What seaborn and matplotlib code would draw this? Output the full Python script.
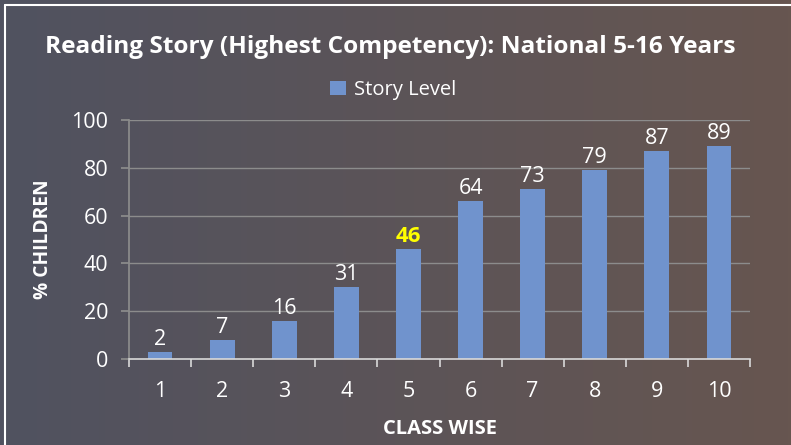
import numpy as np
import pandas as pd
import matplotlib
matplotlib.use("Agg")
import matplotlib.pyplot as plt
import seaborn as sns
from matplotlib.patches import Patch

classes = ["1", "2", "3", "4", "5", "6", "7", "8", "9", "10"]
bar_heights = [3, 8, 16, 30, 46, 66, 71, 79, 87, 89]
value_labels = ["2", "7", "16", "31", "46", "64", "73", "79", "87", "89"]
highlight = "5"
series_name = "Story Level"
title = "Reading Story (Highest Competency): National 5-16 Years"
y_ticks = [0, 20, 40, 60, 80, 100]

sns.set_theme(style="white")
plt.rcParams['font.family'] = ['Open Sans', 'DejaVu Sans']

W, H = 791, 445
fig = plt.figure(figsize=(W / 100, H / 100), dpi=100)

# gradient background
bg = fig.add_axes([0, 0, 1, 1], zorder=-10)
left_c = np.array([80, 82, 96]) / 255
right_c = np.array([103, 86, 80]) / 255
t = np.linspace(0, 1, 256)
grad = left_c[None, :] * (1 - t[:, None]) + right_c[None, :] * t[:, None]
bg.imshow(grad[None, :, :], aspect="auto", extent=[0, 1, 0, 1])
bg.set_xlim(0, 1); bg.set_ylim(0, 1)
bg.axis("off")
bg.plot([5 / W, 1], [1 - 5 / H, 1 - 5 / H], color="white", lw=1.5)
bg.plot([5 / W, 5 / W], [0, 1 - 5 / H], color="white", lw=1.5)

ax_l, ax_r, ax_t, ax_b = 129, 750, 120, 359
ax = fig.add_axes([ax_l / W, 1 - ax_b / H, (ax_r - ax_l) / W, (ax_b - ax_t) / H])
ax.patch.set_alpha(0)

df = pd.DataFrame({"cls": classes, "val": bar_heights, "series": series_name})
sns.barplot(data=df, x="cls", y="val", hue="series", palette=["#7093cd"],
            width=0.4, ax=ax, saturation=1, legend=False, linewidth=0, edgecolor="none")

ax.set_ylim(0, 100)
ax.set_xlim(-0.5, len(classes) - 0.5)
ax.set_yticks(y_ticks)
for y in y_ticks[1:]:
    ax.axhline(y, color="#8c8c8c", lw=1, zorder=0)

for i, (h, lab) in enumerate(zip(bar_heights, value_labels)):
    hl = classes[i] == highlight
    ax.text(i, h + 0.8, lab, ha="center", va="bottom",
            color="#ffff00" if hl else "white",
            fontsize=16 if hl else 15.5, fontweight="bold" if hl else "normal")

for s in ["top", "right"]:
    ax.spines[s].set_visible(False)
ax.spines["left"].set_color("#8c8c8c")
ax.spines["bottom"].set_color("#d9d9d9")
ax.spines["bottom"].set_linewidth(1.2)

ax.set_xticks(np.arange(len(classes)))
ax.set_xticklabels(classes)
ax.tick_params(axis="x", length=0, colors="white", labelsize=15.5, pad=16)
ax.tick_params(axis="y", length=6, direction="out", left=True, color="#8c8c8c",
               labelcolor="white", labelsize=15.5, pad=9)
ax.set_xticks(np.arange(-0.5, len(classes)), minor=True)
ax.tick_params(axis="x", which="minor", length=6, direction="out", color="#d9d9d9",
               width=1.2, bottom=True)

ax.set_xlabel("CLASS WISE", color="white", fontsize=14.5, fontweight="bold", labelpad=12)
ax.set_ylabel("% CHILDREN", color="white", fontsize=13.8, fontweight="bold", labelpad=13)

fig.text(0.493, 1 - 47 / H, title, ha="center", va="center", color="white",
         fontsize=17.6, fontweight="bold")

handle = Patch(facecolor="#7093cd", edgecolor="none")
fig.legend([handle], [series_name], loc="center", bbox_to_anchor=(0.497, 1 - 90 / H),
           frameon=False, fontsize=14.5, handlelength=0.75, handleheight=0.75,
           handletextpad=0.4, labelcolor="white")

fig.savefig("out.png", dpi=100)
